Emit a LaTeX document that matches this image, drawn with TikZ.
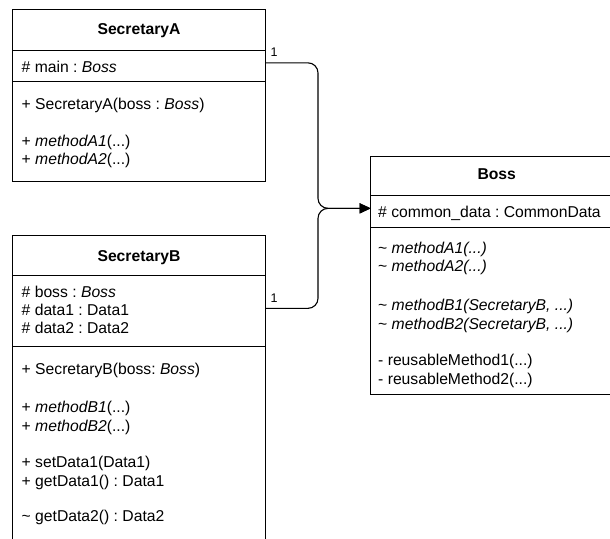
\documentclass[tikz,border=0pt]{standalone}
\usepackage{fontspec}
\setmainfont{Liberation Sans}
\usetikzlibrary{arrows.meta}
\frenchspacing

\newcommand\umlsize{\fontsize{15.7}{18.3}\selectfont}

\tikzset{
  part/.style={draw=black, line width=1pt, fill=white, inner sep=0pt,
               outer sep=0pt, anchor=north west},
  classname/.style={font={\umlsize\bfseries}, anchor=base, inner sep=0pt},
  member/.style={font=\umlsize, anchor=base west, inner sep=0pt},
  mult/.style={font=\fontsize{12.5}{14}\selectfont, anchor=base west, inner sep=0pt},
  assoc/.style={draw=black, line width=1.1pt, rounded corners=10pt,
                -{Triangle[length=11pt,width=10pt]}},
}

\begin{document}
\begin{tikzpicture}[x=1pt, y=-1pt]
  \useasboundingbox (0,0) rectangle (610,538);
  \clip (0,0) rectangle (610,538);

  % ---- class SecretaryA ----
  \node[part, minimum width=252.5pt, minimum height=40.7pt] (saHead) at (12.8,9.3) {};
  \node[part, minimum width=252.5pt, minimum height=31.7pt] (saAttr) at (12.8,50) {};
  \node[part, minimum width=252.5pt, minimum height=100pt]  (saOps)  at (12.8,81.7) {};
  \node[classname] (saName) at (139,34.5) {SecretaryA};
  \node[member] (saMain) at (21.5,72.5) {\# main : \textit{Boss}};
  \node[member] (saCtor) at (21.5,109)  {+ SecretaryA(boss : \textit{Boss})};
  \node[member] (saOpA1) at (21.5,146)  {+ \textit{methodA1}(...)};
  \node[member] (saOpA2) at (21.5,164.3) {+ \textit{methodA2}(...)};

  % ---- class SecretaryB (runs past the lower edge) ----
  \node[part, minimum width=252.5pt, minimum height=40pt]   (sbHead) at (12.8,235) {};
  \node[part, minimum width=252.5pt, minimum height=71.7pt] (sbAttr) at (12.8,275) {};
  \node[part, minimum width=252.5pt, minimum height=220pt]  (sbOps)  at (12.8,346.7) {};
  \node[classname] (sbName) at (139,261.5) {SecretaryB};
  \node[member] (sbBoss)  at (21.5,297.3) {\# boss : \textit{Boss}};
  \node[member] (sbData1) at (21.5,315.6) {\# data1 : Data1};
  \node[member] (sbData2) at (21.5,333.9) {\# data2 : Data2};
  \node[member] (sbCtor)  at (21.5,374.3) {+ SecretaryB(boss: \textit{Boss})};
  \node[member] (sbOpB1)  at (21.5,412.7) {+ \textit{methodB1}(...)};
  \node[member] (sbOpB2)  at (21.5,431)   {+ \textit{methodB2}(...)};
  \node[member] (sbSet1)  at (21.5,467.7) {+ setData1(Data1)};
  \node[member] (sbGet1)  at (21.5,486)   {+ getData1() : Data1};
  \node[member] (sbGet2)  at (21.5,521)   {\textasciitilde{} getData2() : Data2};

  % ---- class Boss (runs past the right edge) ----
  \node[part, minimum width=252pt, minimum height=39pt]    (bossHead) at (370.7,156) {};
  \node[part, minimum width=252pt, minimum height=32.7pt]  (bossAttr) at (370.7,195) {};
  \node[part, minimum width=252pt, minimum height=166.3pt] (bossOps)  at (370.7,227.7) {};
  \node[classname] (bossName) at (496.7,179) {Boss};
  \node[member] (bossData) at (378,217.3) {\# common\_data : CommonData};
  \node[member] (bossA1) at (378,253.3) {\textasciitilde{} \textit{methodA1(...)}};
  \node[member] (bossA2) at (378,271.7) {\textasciitilde{} \textit{methodA2(...)}};
  \node[member] (bossB1) at (378,310.7) {\textasciitilde{} \textit{methodB1(SecretaryB, ...)}};
  \node[member] (bossB2) at (378,329)   {\textasciitilde{} \textit{methodB2(SecretaryB, ...)}};
  \node[member] (bossR1) at (378,365.7) {- reusableMethod1(...)};
  \node[member] (bossR2) at (378,384)   {- reusableMethod2(...)};

  % ---- associations towards Boss ----
  \coordinate (aOut)   at ([yshift=3pt]saAttr.east);
  \coordinate (bOut)   at ([yshift=2.5pt]sbAttr.east);
  \coordinate (bossIn) at ([yshift=3pt]bossAttr.west);
  \coordinate (bend)   at (318,0);
  \draw[assoc] (aOut) -| (bend |- bossIn) -- (bossIn);
  \draw[assoc] (bOut) -| (bend |- bossIn) -- (bossIn);
  \node[mult] (multA) at (270.5,56.7)  {1};
  \node[mult] (multB) at (270.5,302.3) {1};
\end{tikzpicture}
\end{document}
